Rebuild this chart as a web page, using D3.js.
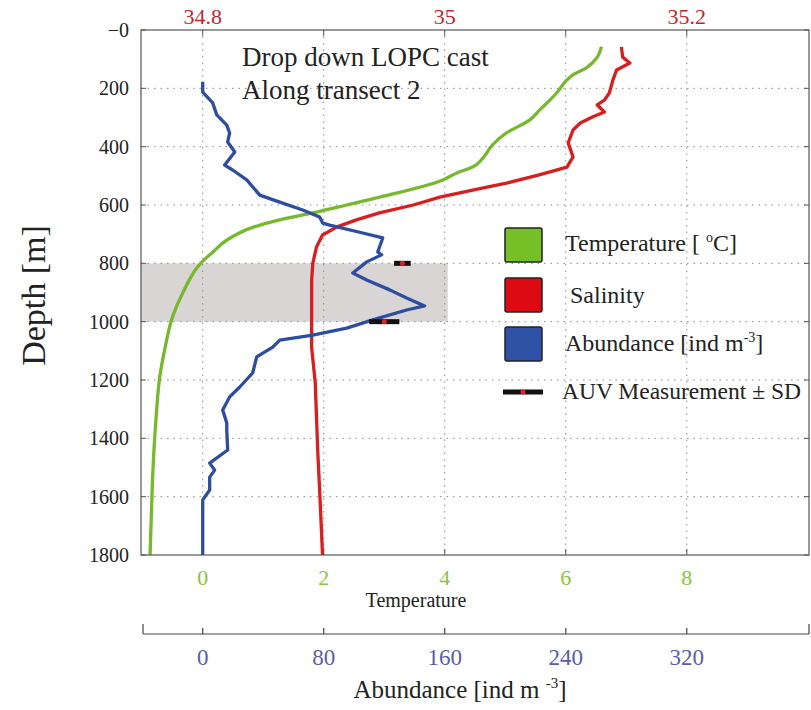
<!DOCTYPE html>
<html>
<head>
<meta charset="utf-8">
<script src="https://cdn.jsdelivr.net/npm/d3@7"></script>
<style>
  body { margin: 0; background: #fff; }
  text { font-family: "Liberation Serif", "Times New Roman", serif; }
</style>
</head>
<body>
<div class="chart"></div>
<script>
// depth profiles (depth in m)
var tempDepth = [57, 96, 130, 154, 171, 216, 274, 309, 353, 394, 439, 470, 490, 514, 573, 600, 627, 651, 675, 720, 761, 799, 902, 984, 1087, 1190, 1327, 1498, 1670, 1800];
var tempValue = [6.59, 6.51, 6.34, 6.12, 6.02, 5.85, 5.57, 5.40, 5.02, 4.79, 4.63, 4.46, 4.20, 3.97, 2.93, 2.38, 1.82, 1.27, 0.85, 0.40, 0.17, -0.03, -0.33, -0.50, -0.62, -0.71, -0.77, -0.82, -0.85, -0.87];

var salDepth = [58, 93, 113, 137, 171, 216, 240, 257, 281, 298, 319, 343, 387, 435, 470, 497, 525, 549, 573, 600, 627, 651, 675, 703, 744, 799, 857, 970, 1087, 1210, 1440, 1611, 1800];
var salValue = [35.146, 35.147, 35.153, 35.142, 35.139, 35.136, 35.132, 35.126, 35.132, 35.122, 35.112, 35.106, 35.102, 35.106, 35.101, 35.078, 35.051, 35.023, 34.996, 34.974, 34.946, 34.927, 34.911, 34.899, 34.894, 34.891, 34.890, 34.890, 34.890, 34.893, 34.895, 34.897, 34.899];

var abDepth = [177, 213, 250, 291, 326, 353, 384, 418, 463, 480, 514, 566, 590, 617, 641, 662, 669, 696, 713, 761, 771, 795, 833, 857, 891, 919, 946, 960, 994, 1022, 1046, 1063, 1087, 1121, 1176, 1224, 1258, 1303, 1347, 1371, 1440, 1485, 1509, 1533, 1577, 1611, 1725, 1800];
var abValue = [0, 0, 6.6, 9.3, 15.9, 17.8, 16.5, 21.2, 14.5, 19.8, 29.1, 37.7, 50.9, 66.1, 77.3, 79.3, 83.9, 105.8, 119.0, 115.7, 118.3, 108.4, 99.2, 108.4, 123.6, 134.8, 146.7, 134.8, 112.4, 95.2, 72.7, 50.9, 46.3, 35.7, 33.0, 24.5, 17.8, 13.2, 15.9, 15.9, 16.5, 4.6, 7.9, 4.6, 4.6, 0, 0, 0];

// AUV measurements (mean +- SD)
var auvDepth = [800, 1000];
var auvMean = [132, 120];
var auvSD = [5.5, 10];

// axis ticks
var depthTicks = [0, 200, 400, 600, 800, 1000, 1200, 1400, 1600, 1800];
var depthLabels = ["\u22120", "200", "400", "600", "800", "1000", "1200", "1400", "1600", "1800"];
var tempTicks = [0, 2, 4, 6, 8];
var salTicks = [34.8, 34.9, 35.0, 35.1, 35.2];
var salLabels = ["34.8", "", "35", "", "35.2"];
var abTicks = [0, 80, 160, 240, 320];
var band = [800, 1000];

var W = 811, H = 710;
var plotL = 141, plotR = 809, plotT = 30, plotB = 555;

var svg = d3.select(".chart").append("svg")
    .attr("width", W)
    .attr("height", H);

var x = d3.scaleLinear().domain([-1.02, 10.02]).range([plotL, plotR]);
var xs = d3.scaleLinear().domain([34.8 - 1.02 * 0.05, 34.8 + 10.02 * 0.05]).range([plotL, plotR]);
var xa = d3.scaleLinear().domain([-1.02 * 40, 10.02 * 40]).range([plotL, plotR]);
var y = d3.scaleLinear().domain([0, 1800]).range([plotT, plotB]);

var green = "#77b82e", red = "#d81e1e", blue = "#2f4d9e";

// shaded depth band
svg.append("rect")
    .attr("x", plotL)
    .attr("y", y(band[0]))
    .attr("width", x(4.05) - plotL)
    .attr("height", y(band[1]) - y(band[0]))
    .attr("fill", "#d9d5d5");

// dotted grid
svg.append("g").selectAll("line").data(tempTicks).enter().append("line")
    .attr("x1", function(d){ return x(d); }).attr("x2", function(d){ return x(d); })
    .attr("y1", plotT).attr("y2", plotB)
    .attr("stroke", "#8a8a8a").attr("stroke-width", 1).attr("stroke-dasharray", "1.5,5");
svg.append("g").selectAll("line").data(depthTicks.slice(1, -1)).enter().append("line")
    .attr("x1", plotL).attr("x2", plotR)
    .attr("y1", function(d){ return y(d); }).attr("y2", function(d){ return y(d); })
    .attr("stroke", "#8a8a8a").attr("stroke-width", 1).attr("stroke-dasharray", "1.5,5");

// frame ticks
var tk = svg.append("g").attr("stroke", "#555").attr("stroke-width", 1);
depthTicks.forEach(function(d){
  tk.append("line").attr("x1", plotL).attr("x2", plotL + 5).attr("y1", y(d)).attr("y2", y(d));
  tk.append("line").attr("x1", plotR).attr("x2", plotR - 5).attr("y1", y(d)).attr("y2", y(d));
});
tempTicks.forEach(function(d){
  tk.append("line").attr("x1", x(d)).attr("x2", x(d)).attr("y1", plotB).attr("y2", plotB - 6);
});
salTicks.forEach(function(d){
  tk.append("line").attr("x1", xs(d)).attr("x2", xs(d)).attr("y1", plotT).attr("y2", plotT + 6);
});

// profile lines
var line = function(vals, depths, scale, curve){
  return d3.line()
    .curve(curve)
    .x(function(d, i){ return scale(vals[i]); })
    .y(function(d, i){ return y(depths[i]); })(depths);
};
svg.append("path").attr("d", line(tempValue, tempDepth, x, d3.curveMonotoneY))
    .attr("fill", "none").attr("stroke", green).attr("stroke-width", 3.3).attr("stroke-linejoin", "round");
svg.append("path").attr("d", line(salValue, salDepth, xs, d3.curveLinear))
    .attr("fill", "none").attr("stroke", red).attr("stroke-width", 3.3).attr("stroke-linejoin", "round");
svg.append("path").attr("d", line(abValue, abDepth, xa, d3.curveLinear))
    .attr("fill", "none").attr("stroke", blue).attr("stroke-width", 3.3).attr("stroke-linejoin", "round");

// AUV markers
auvDepth.forEach(function(d, i){
  svg.append("line")
    .attr("x1", xa(auvMean[i] - auvSD[i])).attr("x2", xa(auvMean[i] + auvSD[i]))
    .attr("y1", y(d)).attr("y2", y(d))
    .attr("stroke", "#111").attr("stroke-width", 5);
  svg.append("circle").attr("cx", xa(auvMean[i])).attr("cy", y(d)).attr("r", 2.5).attr("fill", "#e0202a");
});

// frame
svg.append("rect")
    .attr("x", plotL).attr("y", plotT)
    .attr("width", plotR - plotL).attr("height", plotB - plotT)
    .attr("fill", "none").attr("stroke", "#555").attr("stroke-width", 1.2);

// depth labels
svg.append("g").selectAll("text").data(depthTicks).enter().append("text")
    .attr("x", plotL - 12).attr("y", function(d){ return y(d) + 7; })
    .attr("text-anchor", "end").attr("font-size", 20).attr("fill", "#222")
    .text(function(d, i){ return depthLabels[i]; });

svg.append("text")
    .attr("transform", "translate(45," + ((plotT + plotB) / 2 + 3) + ") rotate(-90)")
    .attr("text-anchor", "middle").attr("font-size", 34).attr("fill", "#222")
    .text("Depth [m]");

// salinity labels (top)
svg.append("g").selectAll("text").data(salTicks).enter().append("text")
    .attr("x", function(d){ return xs(d); }).attr("y", 24)
    .attr("text-anchor", "middle").attr("font-size", 22).attr("fill", "#c4262e")
    .text(function(d, i){ return salLabels[i]; });

// temperature labels (bottom)
svg.append("g").selectAll("text").data(tempTicks).enter().append("text")
    .attr("x", function(d){ return x(d); }).attr("y", 585)
    .attr("text-anchor", "middle").attr("font-size", 22).attr("fill", "#8cc43f")
    .text(function(d){ return d; });
svg.append("text").attr("x", 416).attr("y", 607)
    .attr("text-anchor", "middle").attr("font-size", 20).attr("fill", "#222")
    .text("Temperature");

// abundance axis
var ay = 634;
var ag = svg.append("g").attr("stroke", "#444").attr("stroke-width", 1.2);
ag.append("line").attr("x1", 143).attr("x2", plotR).attr("y1", ay).attr("y2", ay);
ag.append("line").attr("x1", 143).attr("x2", 143).attr("y1", ay).attr("y2", ay - 10);
ag.append("line").attr("x1", plotR).attr("x2", plotR).attr("y1", ay).attr("y2", ay - 10);
abTicks.forEach(function(d){
  ag.append("line").attr("x1", xa(d)).attr("x2", xa(d)).attr("y1", ay).attr("y2", ay - 6);
});
svg.append("g").selectAll("text").data(abTicks).enter().append("text")
    .attr("x", function(d){ return xa(d); }).attr("y", 665)
    .attr("text-anchor", "middle").attr("font-size", 23).attr("fill", "#5b5ea6")
    .text(function(d){ return d; });
var at = svg.append("text").attr("x", 460).attr("y", 698)
    .attr("text-anchor", "middle").attr("font-size", 25).attr("fill", "#222");
at.append("tspan").text("Abundance [ind m ");
at.append("tspan").attr("font-size", 15).attr("dy", -10).text("-3");
at.append("tspan").attr("dy", 10).text("]");

// annotation
svg.append("text").attr("x", 242).attr("y", 66).attr("font-size", 27).attr("fill", "#222").text("Drop down LOPC cast");
svg.append("text").attr("x", 242).attr("y", 99).attr("font-size", 27).attr("fill", "#222").text("Along transect 2");

// legend
var lg = svg.append("g");
var boxes = [
  {y: 228, c: "#77bf26"},
  {y: 278, c: "#dd0a12"},
  {y: 327, c: "#2f52a6"}
];
boxes.forEach(function(b){
  lg.append("rect").attr("x", 505).attr("y", b.y).attr("width", 37).attr("height", 34)
    .attr("rx", 2).attr("fill", b.c).attr("stroke", "#222").attr("stroke-width", 1.5);
});
var t1 = lg.append("text").attr("x", 565).attr("y", 251).attr("font-size", 24).attr("fill", "#222");
t1.append("tspan").text("Temperature [ ");
t1.append("tspan").attr("font-size", 14).attr("dy", -9).text("o");
t1.append("tspan").attr("dy", 9).text("C]");
lg.append("text").attr("x", 570).attr("y", 303).attr("font-size", 24).attr("fill", "#222").text("Salinity");
var t3 = lg.append("text").attr("x", 565).attr("y", 351).attr("font-size", 24).attr("fill", "#222");
t3.append("tspan").text("Abundance [ind m");
t3.append("tspan").attr("font-size", 14).attr("dy", -9).text("-3");
t3.append("tspan").attr("dy", 9).text("]");
lg.append("line").attr("x1", 503).attr("x2", 543).attr("y1", 392).attr("y2", 392)
  .attr("stroke", "#111").attr("stroke-width", 5);
lg.append("circle").attr("cx", 523).attr("cy", 392).attr("r", 2.5).attr("fill", "#e0202a");
lg.append("text").attr("x", 562).attr("y", 399).attr("font-size", 23.5).attr("fill", "#222").text("AUV Measurement \u00b1 SD");
</script>
</body>
</html>
